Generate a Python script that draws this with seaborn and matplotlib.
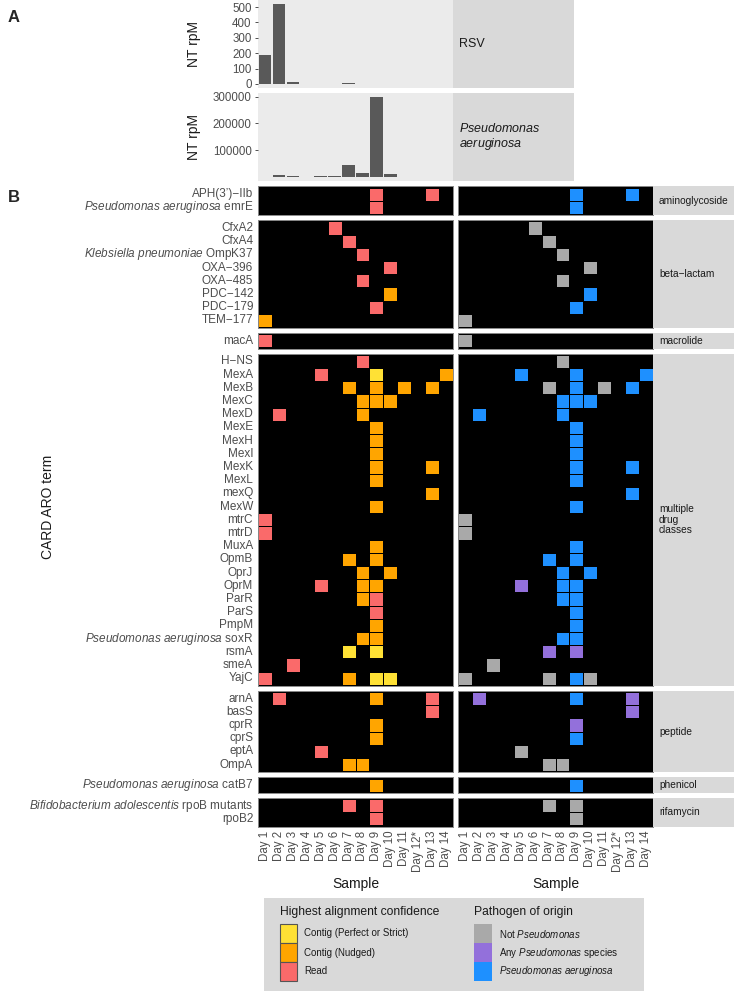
import numpy as np
import pandas as pd
import matplotlib
matplotlib.use("Agg")
import matplotlib.pyplot as plt
import seaborn as sns
from matplotlib.colors import ListedColormap
from matplotlib.patches import Rectangle

sns.set_theme(style="white")
plt.rcParams['font.family'] = ['Liberation Sans', 'DejaVu Sans']
plt.rcParams['mathtext.fontset'] = 'custom'
plt.rcParams['mathtext.rm'] = 'Liberation Sans'
plt.rcParams['mathtext.it'] = 'Liberation Sans:italic'

# ---------------- data ----------------
days = ["Day 1", "Day 2", "Day 3", "Day 4", "Day 5", "Day 6", "Day 7", "Day 8",
        "Day 9", "Day 10", "Day 11", "Day 12*", "Day 13", "Day 14"]

rsv_rpm = [190, 520, 12, 2, 2, 2, 5, 2, 2, 2, 1, np.nan, np.nan, 3]
pa_rpm = [1000, 7500, 3000, 600, 5000, 5000, 44000, 16500, 298000, 10000, 800,
          np.nan, 900, 900]

drug_classes = ["aminoglycoside", "beta\u2212lactam", "macrolide",
                "multiple\ndrug\nclasses", "peptide", "phenicol", "rifamycin"]

class_genes = [
    ["APH(3\u2019)\u2212IIb", "Pseudomonas aeruginosa emrE"],
    ["CfxA2", "CfxA4", "Klebsiella pneumoniae OmpK37", "OXA\u2212396", "OXA\u2212485",
     "PDC\u2212142", "PDC\u2212179", "TEM\u2212177"],
    ["macA"],
    ["H\u2212NS", "MexA", "MexB", "MexC", "MexD", "MexE", "MexH", "MexI", "MexK", "MexL",
     "mexQ", "MexW", "mtrC", "mtrD", "MuxA", "OpmB", "OprJ", "OprM", "ParR", "ParS",
     "PmpM", "Pseudomonas aeruginosa soxR", "rsmA", "smeA", "YajC"],
    ["arnA", "basS", "cprR", "cprS", "eptA", "OmpA"],
    ["Pseudomonas aeruginosa catB7"],
    ["Bifidobacterium adolescentis rpoB mutants", "rpoB2"],
]

hit_gene = [
    "APH(3\u2019)\u2212IIb", "APH(3\u2019)\u2212IIb", "Pseudomonas aeruginosa emrE",
    "CfxA2", "CfxA4", "Klebsiella pneumoniae OmpK37", "OXA\u2212396", "OXA\u2212485",
    "PDC\u2212142", "PDC\u2212179", "TEM\u2212177",
    "macA",
    "H\u2212NS", "MexA", "MexA", "MexA", "MexB", "MexB", "MexB", "MexB", "MexC", "MexC", "MexC",
    "MexD", "MexD",
    "MexE", "MexH", "MexI", "MexK", "MexK", "MexL", "mexQ", "MexW", "mtrC", "mtrD", "MuxA",
    "OpmB", "OpmB",
    "OprJ", "OprJ", "OprM", "OprM", "OprM", "ParR", "ParR", "ParS", "PmpM",
    "Pseudomonas aeruginosa soxR", "Pseudomonas aeruginosa soxR", "rsmA", "rsmA", "smeA",
    "YajC", "YajC", "YajC", "YajC",
    "arnA", "arnA", "arnA", "basS", "cprR", "cprS", "eptA", "OmpA", "OmpA",
    "Pseudomonas aeruginosa catB7",
    "Bifidobacterium adolescentis rpoB mutants", "Bifidobacterium adolescentis rpoB mutants",
    "rpoB2",
]
hit_day = [
    9, 13, 9,
    6, 7, 8, 10, 8, 10, 9, 1,
    1,
    8, 5, 9, 14, 7, 9, 11, 13, 8, 9, 10, 2, 8,
    9, 9, 9, 9, 13, 9, 13, 9, 1, 1, 9, 7, 9,
    8, 10, 5, 8, 9, 8, 9, 9, 9,
    8, 9, 7, 9, 3, 1, 7, 9, 10,
    2, 9, 13, 13, 9, 9, 5, 7, 8,
    9,
    7, 9, 9,
]
# P = contig (perfect/strict), N = contig (nudged), R = read
hit_conf = [
    "R", "R", "R",
    "R", "R", "R", "R", "R", "N", "R", "N",
    "R",
    "R", "R", "P", "N", "N", "N", "N", "N", "N", "N", "N", "R", "N",
    "N", "N", "N", "N", "N", "N", "N", "N", "R", "R", "N", "N", "N",
    "N", "N", "R", "N", "N", "N", "R", "R", "N",
    "N", "N", "P", "P", "R", "R", "N", "P", "P",
    "R", "N", "R", "R", "N", "N", "R", "N", "N",
    "N",
    "R", "R", "R",
]
# O = not Pseudomonas, S = any Pseudomonas species, A = P. aeruginosa
hit_path = [
    "A", "A", "A",
    "O", "O", "O", "O", "O", "A", "A", "O",
    "O",
    "O", "A", "A", "A", "O", "A", "O", "A", "A", "A", "A", "A", "A",
    "A", "A", "A", "A", "A", "A", "A", "A", "O", "O", "A", "A", "A",
    "A", "A", "S", "A", "A", "A", "A", "A", "A",
    "A", "A", "S", "S", "O", "O", "O", "A", "O",
    "S", "A", "S", "S", "S", "A", "O", "O", "O",
    "A",
    "O", "O", "O",
]

conf_codes = ["P", "N", "R"]
conf_labels = ["Contig (Perfect or Strict)", "Contig (Nudged)", "Read"]
conf_colors = ["#FFE135", "#FFA500", "#FA6A6A"]
path_codes = ["O", "S", "A"]
path_labels = [r"Not $\mathit{Pseudomonas}$", r"Any $\mathit{Pseudomonas}$ species",
               r"$\mathit{Pseudomonas\ aeruginosa}$"]
path_colors = ["#A9A9A9", "#9370DB", "#1E90FF"]

species_prefixes = ["Pseudomonas aeruginosa", "Klebsiella pneumoniae",
                    "Bifidobacterium adolescentis"]


def fmt(label):
    for sp in species_prefixes:
        if label.startswith(sp + " "):
            return r"$\mathit{" + sp.replace(" ", r"\ ") + "}$" + label[len(sp):]
    return label


# ---------------- layout ----------------
W, H = 734, 991
fig = plt.figure(figsize=(W / 100, H / 100), dpi=100)


def px_axes(x0, y0, w, h):
    return fig.add_axes([x0 / W, 1 - (y0 + h) / H, w / W, h / H])


TXT = "#4d4d4d"
STRIP = "#D9D9D9"

# ---------------- panel A ----------------
barsets = [("RSV", rsv_rpm, (-26, 546), [0, 100, 200, 300, 400, 500], ["0", "100", "200", "300", "400", "500"]),
           ("$\\mathit{Pseudomonas}$\n$\\mathit{aeruginosa}$", pa_rpm, (-14950, 313800),
            [100000, 200000, 300000], ["100000", "200000", "300000"])]
for i, (name, vals, ylim, yt, ytl) in enumerate(barsets):
    y0 = 0 if i == 0 else 93
    ax = px_axes(258, y0, 195, 88)
    dfb = pd.DataFrame({"day": days, "rpm": vals})
    sns.barplot(data=dfb, x="day", y="rpm", order=days, color="#595959", saturation=1,
                width=0.9, errorbar=None, linewidth=0, ax=ax)
    ax.set_xlim(-0.5, 13.5)
    ax.set_ylim(*ylim)
    ax.set_facecolor("#EBEBEB")
    for s in ax.spines.values():
        s.set_visible(False)
    ax.set_xticks([])
    ax.set_xlabel("")
    ax.set_yticks(yt)
    ax.set_yticklabels(ytl)
    ax.tick_params(axis="y", labelsize=8.3, labelcolor=TXT, length=2.5, width=0.6,
                   color="#333333", pad=2, left=True)
    ax.set_ylabel("NT rpM", fontsize=10, color="#1a1a1a")
    ax.yaxis.set_label_coords(-0.29, 0.5)
    sa = px_axes(453, y0, 121, 88)
    sa.set_facecolor(STRIP)
    sa.set_xticks([]); sa.set_yticks([])
    for s in sa.spines.values():
        s.set_visible(False)
    sa.text(0.05, 0.5, name, transform=sa.transAxes, ha="left", va="center",
            fontsize=9, color="#1a1a1a", linespacing=1.1)

fig.text(8 / W, 1 - 17 / H, "A", fontsize=12, fontweight="bold", ha="left", va="center")
fig.text(8 / W, 1 - 198 / H, "B", fontsize=12, fontweight="bold", ha="left", va="center")

# ---------------- panel B ----------------
TOP, RH, PAD, GAP = 186.5, 13.2, 1.15, 5.0
y = TOP
nclass = len(drug_classes)
for gi, (cls, genes) in enumerate(zip(drug_classes, class_genes)):
    n = len(genes)
    h = n * RH + 2 * PAD
    last = gi == nclass - 1
    for side in (0, 1):
        x0 = 258 if side == 0 else 458
        ax = px_axes(x0, y, 195, h)
        mat = np.full((n, len(days)), np.nan)
        for g, d, c, p in zip(hit_gene, hit_day, hit_conf, hit_path):
            if g in genes:
                mat[genes.index(g), d - 1] = conf_codes.index(c) if side == 0 else path_codes.index(p)
        dfm = pd.DataFrame(mat, index=[fmt(g) for g in genes], columns=days)
        cols = conf_colors if side == 0 else path_colors
        sns.heatmap(dfm, ax=ax, mask=np.isnan(mat), cmap=ListedColormap(cols),
                    vmin=-0.5, vmax=2.5, cbar=False, linewidths=0.6, linecolor="black",
                    xticklabels=days if last else False,
                    yticklabels=True if side == 0 else False)
        ax.set_facecolor("black")
        ax.set_xlim(0, len(days))
        ax.set_ylim(n + PAD / RH, -PAD / RH)
        ax.set_xlabel("")
        ax.set_ylabel("")
        for s in ax.spines.values():
            s.set_visible(True)
            s.set_color("#8a8a8a")
            s.set_linewidth(0.7)
        ax.tick_params(axis="both", length=0)
        if side == 0:
            ax.tick_params(axis="y", labelsize=8.5, labelcolor=TXT, rotation=0, pad=3.5)
        if last:
            ax.tick_params(axis="x", labelsize=8.3, labelcolor=TXT, rotation=90, pad=3)
            ax.set_xlabel("Sample", fontsize=10, color="#1a1a1a", labelpad=4)
    sa = px_axes(653, y, 81, h)
    sa.set_facecolor(STRIP)
    sa.set_xticks([]); sa.set_yticks([])
    for s in sa.spines.values():
        s.set_visible(False)
    sa.text(6 / 81, 0.5, cls, transform=sa.transAxes, ha="left", va="center",
            fontsize=7.3, color="#1a1a1a", linespacing=1.05)
    y += h + GAP

heat_bottom = y - GAP
fig.text(48 / W, 1 - ((TOP + heat_bottom) / 2) / H, "CARD ARO term", rotation=90,
         fontsize=10, color="#1a1a1a", ha="center", va="center")

# ---------------- legend ----------------
lg = px_axes(264, 898, 380, 93)
lg.set_facecolor(STRIP)
lg.set_xlim(0, 380)
lg.set_ylim(93, 0)
lg.set_xticks([]); lg.set_yticks([])
for s in lg.spines.values():
    s.set_visible(False)
lg.text(15.5, 14, "Highest alignment confidence", fontsize=8.7, color="#1a1a1a",
        ha="left", va="center")
lg.text(210, 14, "Pathogen of origin", fontsize=8.7, color="#1a1a1a", ha="left", va="center")
for k, (lab, col) in enumerate(zip(conf_labels, conf_colors)):
    ky = 26 + k * 19
    lg.add_patch(Rectangle((15.5, ky), 17, 19, facecolor=col, edgecolor="#555555", linewidth=0.8))
    lg.text(40, ky + 9.5, lab, fontsize=7, color="#1a1a1a", ha="left", va="center")
for k, (lab, col) in enumerate(zip(path_labels, path_colors)):
    ky = 26 + k * 19
    lg.add_patch(Rectangle((210, ky), 18, 19, facecolor=col, edgecolor="none"))
    lg.text(235, ky + 9.5, lab, fontsize=7, color="#1a1a1a", ha="left", va="center")

fig.savefig("out.png", dpi=100)
